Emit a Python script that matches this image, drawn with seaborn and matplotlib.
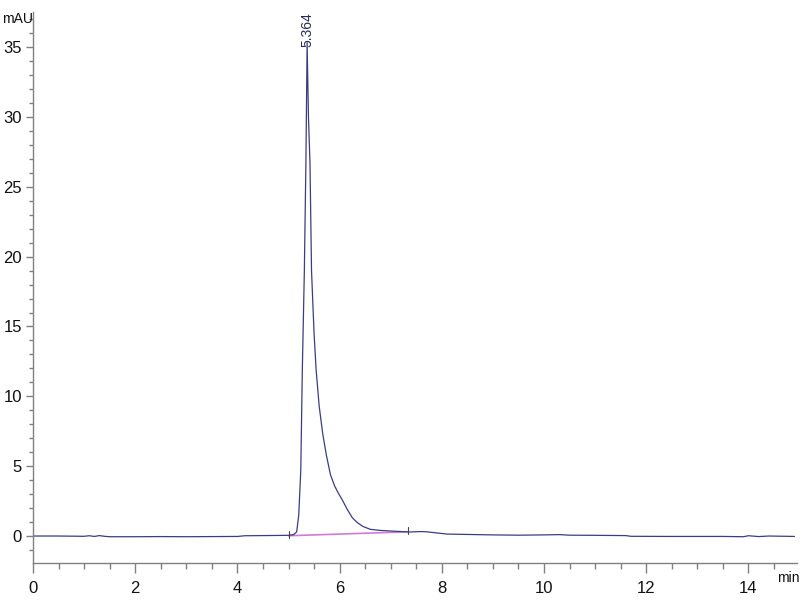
import matplotlib
matplotlib.use("Agg")
import matplotlib.pyplot as plt
import seaborn as sns
import pandas as pd
from matplotlib.ticker import MultipleLocator

sns.set_theme(style="white")
FONT = ['Liberation Sans Narrow', 'Liberation Sans', 'DejaVu Sans']
plt.rcParams['font.family'] = FONT

# chromatogram signal (time in min, absorbance in mAU)
time_min = [0.0, 0.5, 1.0, 1.1, 1.2, 1.3, 1.4, 1.5, 2.0, 2.5, 3.0, 3.5, 4.0, 4.15, 4.5,
            5.0, 5.10, 5.16, 5.20, 5.24, 5.27, 5.31, 5.34, 5.364, 5.39, 5.42, 5.45,
            5.50, 5.54, 5.60, 5.67, 5.74, 5.82, 5.90, 5.97, 6.05, 6.15, 6.25, 6.35, 6.46,
            6.60, 6.80, 6.99, 7.20, 7.38, 7.60, 7.71, 7.90, 8.10, 8.69, 9.00, 9.50,
            10.0, 10.3, 10.5, 11.0, 11.6, 11.7, 12.5, 13.5, 13.9, 14.0, 14.2, 14.4, 14.9]
signal_mau = [0.0, 0.0, -0.02, 0.02, -0.03, 0.03, -0.02, -0.05, -0.05, -0.04, -0.05, -0.04, -0.03, 0.02, 0.03,
              0.05, 0.1, 0.3, 1.5, 4.7, 11.9, 19.0, 26.7, 35.3, 30.0, 26.7, 19.0,
              14.5, 11.9, 9.3, 7.3, 5.8, 4.4, 3.6, 3.1, 2.6, 1.9, 1.3, 0.95, 0.68,
              0.48, 0.40, 0.36, 0.32, 0.29, 0.32, 0.30, 0.22, 0.14, 0.10, 0.08, 0.06,
              0.08, 0.10, 0.06, 0.05, 0.03, -0.02, -0.03, -0.03, -0.05, 0.02, -0.04, 0.0, -0.03]

# integration baseline
base_time = [5.0, 7.34]
base_mau = [0.02, 0.30]

peak_rt = 5.364
peak_height = 35.3
peak_label = "5.364"

df = pd.DataFrame({"t": time_min, "v": signal_mau})
bdf = pd.DataFrame({"t": base_time, "v": base_mau})

fig = plt.figure(figsize=(8, 6), dpi=100)
ax = fig.add_axes([0.04125, 0.0617, 0.955, 0.918])

sns.lineplot(data=bdf, x="t", y="v", ax=ax, color="#d27ad6", linewidth=1.2, estimator=None, sort=False)
sns.lineplot(data=df, x="t", y="v", ax=ax, color="#3c3c82", linewidth=0.9, estimator=None, sort=False)

# integration markers
for bt, bv in zip(base_time, base_mau):
    ax.plot([bt, bt], [bv - 0.15, bv + 0.35], color="#444444", linewidth=0.8)

ax.set_xlim(0, 14.95)
ax.set_ylim(-1.93, 37.5)
ax.xaxis.set_major_locator(MultipleLocator(2))
ax.xaxis.set_minor_locator(MultipleLocator(0.5))
ax.yaxis.set_major_locator(MultipleLocator(5))
ax.yaxis.set_minor_locator(MultipleLocator(1))
ax.set_xlabel("")
ax.set_ylabel("")

for s in ["top", "right"]:
    ax.spines[s].set_visible(False)
for s in ["left", "bottom"]:
    ax.spines[s].set_color("#808080")
    ax.spines[s].set_linewidth(1.0)

ax.tick_params(axis="both", which="major", direction="out", color="#808080",
               labelsize=12, labelcolor="#111111", bottom=True, left=True)
ax.tick_params(axis="x", which="major", length=7, width=1, pad=6)
ax.tick_params(axis="x", which="minor", length=4, width=1, bottom=True, color="#808080", direction="out")
ax.tick_params(axis="y", which="major", length=5, width=1, pad=3)
ax.tick_params(axis="y", which="minor", length=3, width=1, left=True, color="#808080", direction="out")

ax.set_yticks([0, 5, 10, 15, 20, 25, 30, 35])
ax.set_xticks([0, 2, 4, 6, 8, 10, 12, 14])
ax.set_xticklabels(["0", "2", "4", "6", "8", "10", "12", "14"])

fig.text(0.003, 1 - 19 / 600, "mAU", ha="left", va="center", fontsize=10, color="#111111",
         family=FONT)
fig.text(0.999, 1 - 578 / 600, "min", ha="right", va="center", fontsize=10, color="#111111",
         family=FONT)

ax.text(peak_rt, peak_height - 0.3, peak_label, rotation=90, ha="center", va="bottom",
        fontsize=10, color="#2a2a50", family=FONT)

fig.savefig("out.png", dpi=100)
